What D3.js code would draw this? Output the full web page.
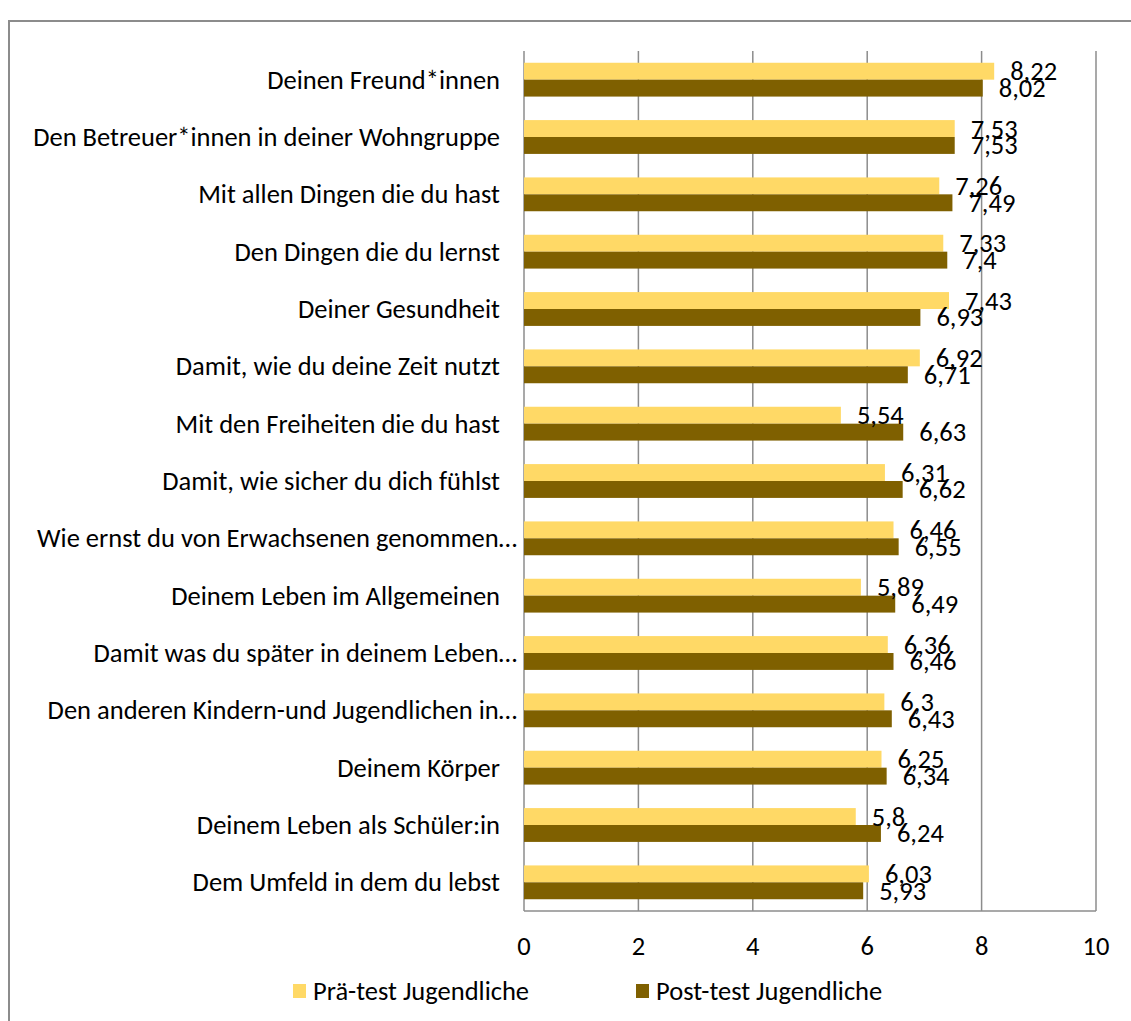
<!DOCTYPE html>
<html><head><meta charset="utf-8">
<script src="https://cdn.jsdelivr.net/npm/d3@7"></script>
<style>
body{margin:0;background:#fff;}
svg{display:block;}
text{font-family:Carlito,Calibri,"Open Sans","Noto Sans",sans-serif;fill:#000;}
</style></head>
<body><svg id="c" width="1131" height="1021"></svg>
<script>
const categories = [
  "Deinen Freund*innen",
  "Den Betreuer*innen in deiner Wohngruppe",
  "Mit allen Dingen die du hast",
  "Den Dingen die du lernst",
  "Deiner Gesundheit",
  "Damit, wie du deine Zeit nutzt",
  "Mit den Freiheiten die du hast",
  "Damit, wie sicher du dich fühlst",
  "Wie ernst du von Erwachsenen genommen…",
  "Deinem Leben im Allgemeinen",
  "Damit was du später in deinem Leben…",
  "Den anderen Kindern-und Jugendlichen in…",
  "Deinem Körper",
  "Deinem Leben als Schüler:in",
  "Dem Umfeld in dem du lebst"
];
const seriesNames = ["Prä-test Jugendliche", "Post-test Jugendliche"];
const preValues  = [8.22, 7.53, 7.26, 7.33, 7.43, 6.92, 5.54, 6.31, 6.46, 5.89, 6.36, 6.3, 6.25, 5.8, 6.03];
const postValues = [8.02, 7.53, 7.49, 7.4, 6.93, 6.71, 6.63, 6.62, 6.55, 6.49, 6.46, 6.43, 6.34, 6.24, 5.93];
const xTicks = [0, 2, 4, 6, 8, 10];
const colors = ["#FFD966", "#7F6000"];
const FS = 26.5;

const svg = d3.select("#c");
// outer chart border
svg.append("rect").attr("x", 9).attr("y", 21).attr("width", 1140).attr("height", 1020)
  .attr("fill", "none").attr("stroke", "#8c8c8c").attr("stroke-width", 2);

const pL = 524, pR = 1096, pT = 51, pB = 911;
const x = d3.scaleLinear().domain([0, 10]).range([pL, pR]);
const y = d3.scaleBand().domain(categories).range([pT, pB]).padding(0);
const bw = y.bandwidth();
const ys = d3.scaleBand().domain(seriesNames).range([bw * 0.205, bw * 0.795]);

// gridlines
svg.append("g").selectAll("line").data(xTicks).join("line")
  .attr("x1", d => x(d)).attr("x2", d => x(d)).attr("y1", pT).attr("y2", pB)
  .attr("stroke", "#8c8c8c").attr("stroke-width", 1.5);
// bottom axis line
svg.append("line").attr("x1", pL).attr("x2", pR).attr("y1", pB).attr("y2", pB)
  .attr("stroke", "#8c8c8c").attr("stroke-width", 1.5);

const rows = categories.map((c, i) => ({c, vals: [preValues[i], postValues[i]]}));
const g = svg.append("g").selectAll("g").data(rows).join("g")
  .attr("transform", d => `translate(0,${y(d.c)})`);
g.selectAll("rect").data(d => d.vals.map((v, k) => ({v, k}))).join("rect")
  .attr("x", x(0)).attr("y", d => ys(seriesNames[d.k]))
  .attr("width", d => x(d.v) - x(0)).attr("height", ys.bandwidth())
  .attr("fill", d => colors[d.k]);
g.selectAll("text.v").data(d => d.vals.map((v, k) => ({v, k}))).join("text")
  .attr("class", "v")
  .attr("x", d => x(d.v) + 16).attr("y", d => ys(seriesNames[d.k]) + ys.bandwidth() / 2)
  .attr("dy", "0.34em").attr("font-size", FS)
  .text(d => String(d.v).replace(".", ","));

// category labels
svg.append("g").selectAll("text").data(categories).join("text")
  .attr("x", d => d.endsWith("…") ? 517 : 500)
  .attr("y", d => y(d) + bw / 2).attr("dy", "0.34em")
  .attr("text-anchor", "end").attr("font-size", FS).text(d => d);

// x tick labels
svg.append("g").selectAll("text").data(xTicks).join("text")
  .attr("x", d => x(d)).attr("y", 946).attr("dy", "0.34em")
  .attr("text-anchor", "middle").attr("font-size", FS).text(d => d);

// legend
const lg = svg.append("g").selectAll("g").data(seriesNames).join("g")
  .attr("transform", (d, i) => `translate(${[293, 636][i]},984)`);
lg.append("rect").attr("width", 13).attr("height", 14).attr("fill", (d, i) => colors[i]);
lg.append("text").attr("x", 20).attr("y", 7).attr("dy", "0.34em").attr("font-size", FS).text(d => d);
</script></body></html>
